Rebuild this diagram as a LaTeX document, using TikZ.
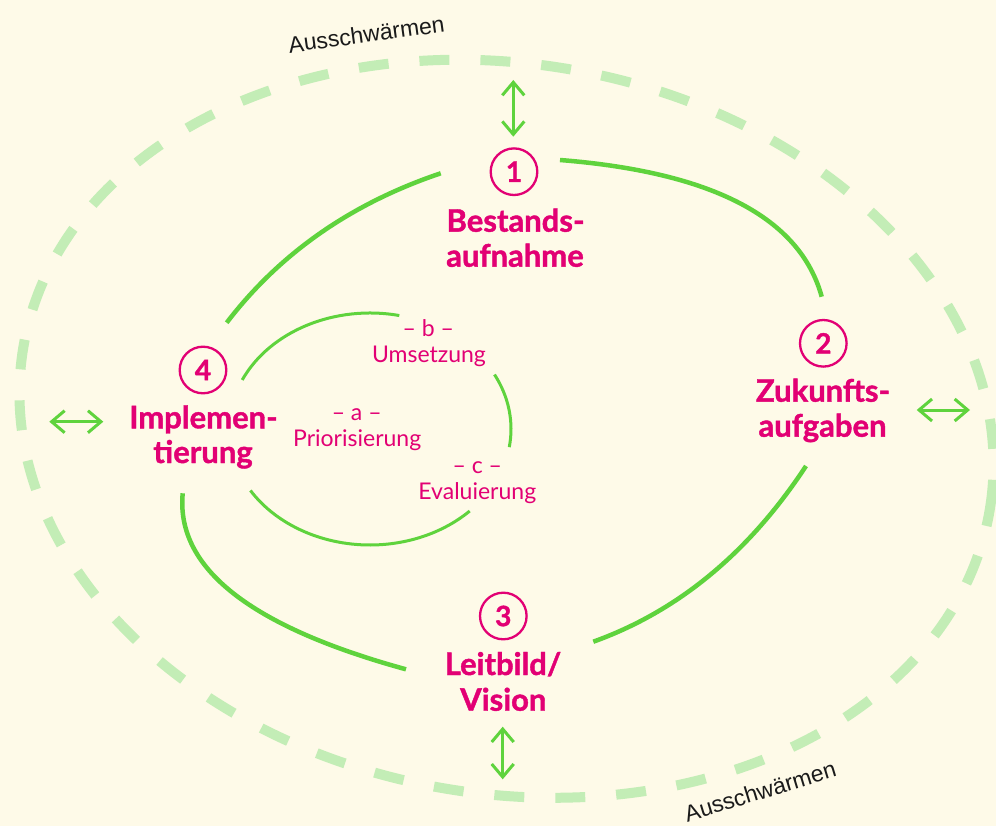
\documentclass[tikz,border=0pt]{standalone}
\usepackage{fontspec}
\setmainfont{Lato}[BoldFeatures={FakeBold=1.3}]
\newfontfamily\arialfont{Liberation Sans}
\usetikzlibrary{arrows.meta}
\definecolor{bg}{HTML}{FEFAE8}
\definecolor{mag}{HTML}{E20074}
\definecolor{grn}{HTML}{5FD33D}
\definecolor{lgrn}{HTML}{C3EDB6}
\definecolor{ink}{HTML}{1A1A1A}
\begin{document}
\begin{tikzpicture}[x=1pt,y=-1pt,
  looparc/.style={grn, line width=4.5pt},
  innerarc/.style={grn, line width=3pt},
  swarm/.style={lgrn, line width=10pt, dash pattern=on 30pt off 31pt},
  numcirc/.style={circle, draw=mag, line width=2.3pt, minimum size=46.6pt, inner sep=0pt, text=mag, font=\fontsize{28}{28}\selectfont\bfseries},
  biglabel/.style={anchor=base, inner sep=0pt, text=mag, font=\fontsize{31}{35}\selectfont\bfseries},
  smalllabel/.style={anchor=base, inner sep=0pt, text=mag, font=\fontsize{23}{26}\selectfont},
  swarmlabel/.style={anchor=base, inner sep=0pt, text=ink, font=\arialfont\fontsize{23}{26}\selectfont},
  dblarrow/.style={grn, line width=3pt, {Straight Barb[length=13pt,width=22pt]}-{Straight Barb[length=13pt,width=22pt]}}
]
\useasboundingbox (0,0) rectangle (996,826);
\fill[bg] (0,0) rectangle (996,826);

% outer dashed ellipse
\draw[swarm, rotate around={-9.5:(506.5,428.75)}] (506.5,428.75) ellipse [x radius=490pt, y radius=365pt];

% main loop arcs
\draw[looparc] (226.7,322.7) .. controls (279.8,253.3) and (351.1,203.5) .. (440.7,173.3);
\draw[looparc] (560,160) .. controls (712.8,172.2) and (800.0,217.7) .. (821.7,296.7);
\draw[looparc] (806,466) .. controls (748.9,552.8) and (678.0,611.3) .. (593.3,641.7);
\draw[looparc] (182.7,493.3) .. controls (175.7,568.0) and (250.2,626.6) .. (406,669.3);

% inner loop arcs
\draw[innerarc] (370,429) ++(155:141pt and 116pt) arc[start angle=155, end angle=78, x radius=141pt, y radius=116pt];
\draw[innerarc] (370,429) ++(-9:141pt and 116pt) arc[start angle=-9, end angle=28, x radius=141pt, y radius=116pt];
\draw[innerarc] (370,429) ++(212:141pt and 116pt) arc[start angle=212, end angle=315, x radius=141pt, y radius=116pt];

% number circles
\node[numcirc] (n1) at (514,171.7) {1};
\node[numcirc] (n2) at (823.3,343.3) {2};
\node[numcirc] (n3) at (503.3,616) {3};
\node[numcirc] (n4) at (203,370) {4};

% step labels
\node[biglabel] (l1a) at (515.5,231.7) {Bestands-};
\node[biglabel] (l1b) at (515,266.7) {aufnahme};
\node[biglabel] (l2a) at (823,401.7) {Zukunfts-};
\node[biglabel] (l2b) at (822.5,436.7) {aufgaben};
\node[biglabel] (l3a) at (503,675) {Leitbild/};
\node[biglabel] (l3b) at (503.3,710.7) {Vision};
\node[biglabel] (l4a) at (203.5,428.3) {Implemen-};
\node[biglabel] (l4b) at (203,463) {tierung};

% inner labels
\node[smalllabel] (sb) at (428.3,336.7) {– b –};
\node[smalllabel] (sbt) at (429,362.7) {Umsetzung};
\node[smalllabel] (sa) at (356.7,420.7) {– a –};
\node[smalllabel] (sat) at (357.2,446.7) {Priorisierung};
\node[smalllabel] (sc) at (477.3,473.3) {– c –};
\node[smalllabel] (sct) at (477.3,499.3) {Evaluierung};

% swarm labels
\node[swarmlabel, rotate=7.8] (sw1) at (367.5,42.4) {Ausschwärmen};
\node[swarmlabel, rotate=17] (sw2) at (762.5,799.2) {Ausschwärmen};

% double arrows
\coordinate (ta) at (513.3,80);
\coordinate (tb) at (513.3,136.7);
\coordinate (ba) at (502.7,726.7);
\coordinate (bb) at (502.7,779.3);
\coordinate (la) at (49.3,421.7);
\coordinate (lb) at (103.3,421.7);
\coordinate (ra) at (916.7,410);
\coordinate (rb) at (970,410);
\draw[dblarrow] (ta) -- (tb);
\draw[dblarrow] (ba) -- (bb);
\draw[dblarrow] (la) -- (lb);
\draw[dblarrow] (ra) -- (rb);
\end{tikzpicture}
\end{document}
